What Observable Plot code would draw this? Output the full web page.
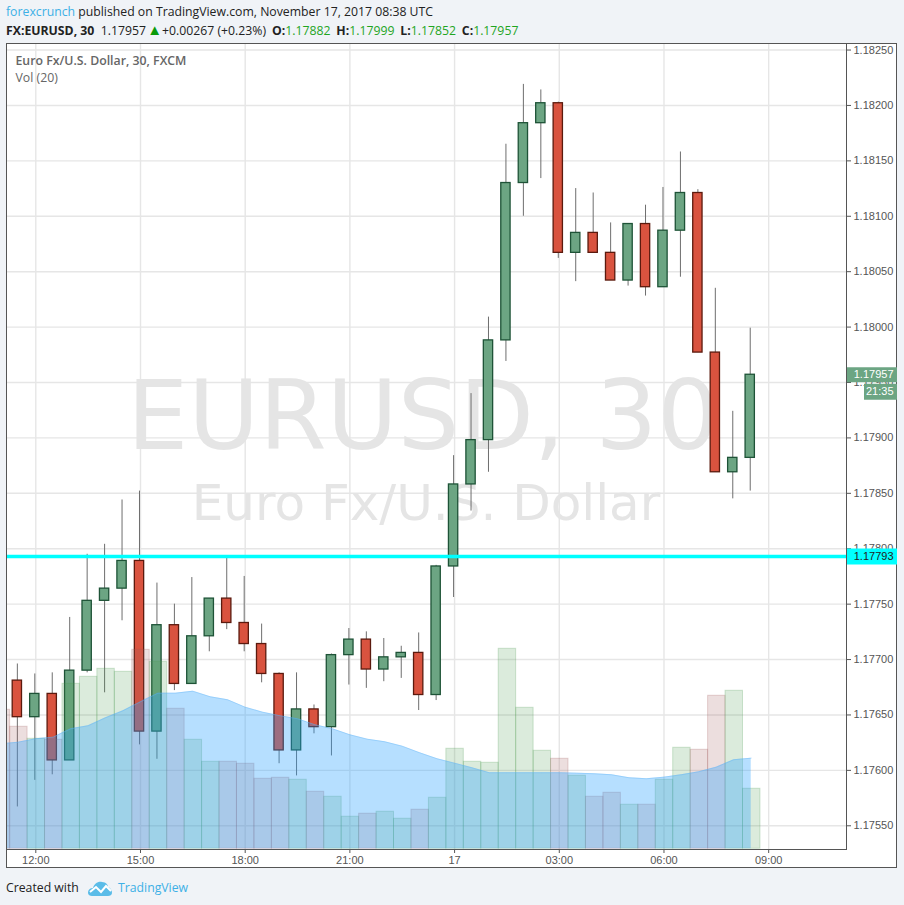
<!DOCTYPE html>
<html><head><meta charset="utf-8">
<script src="https://cdn.jsdelivr.net/npm/d3@7"></script>
<script src="https://cdn.jsdelivr.net/npm/@observablehq/plot@0.6"></script>
<style>
html,body{margin:0;padding:0;background:#f0f3f7;width:904px;height:905px;overflow:hidden}
#head{position:absolute;left:6px;top:2px;font:12.25px/19px "Open Sans",sans-serif;color:#222;white-space:nowrap}
#head .b{color:#3db0e6}
#head b{font-weight:700}
#head .g{color:#1fa51f}
#head .t{color:#0a9a0a;font-size:15px;line-height:15px;margin:0 0 0 -2px}
#head .s{margin-left:2.7px}
#chart{position:absolute;left:6px;top:43px;width:891px;height:825px;background:#fff;box-shadow:inset 0 0 0 1px #555}
#chart svg{display:block;overflow:visible}
#foot{position:absolute;left:6px;top:878px;font:12.25px/20px "Open Sans",sans-serif;color:#222;white-space:nowrap}
#foot .b{color:#3db0e6;margin-left:5px}
#foot svg{vertical-align:-4px;margin-left:5px}
</style></head><body>
<div id="head"><div><span class="b">forexcrunch</span> published on TradingView.com, November 17, 2017 08:38 UTC</div>
<div><b>FX:EURUSD, 30</b>&nbsp; 1.17957 <span class="t">&#9650;</span>+0.00267 (+0.23%) <b class="s">O:</b><span class="g">1.17882</span> <b class="s">H:</b><span class="g">1.17999</span> <b class="s">L:</b><span class="g">1.17852</span> <b class="s">C:</b><span class="g">1.17957</span></div></div>
<div id="chart"></div>
<div id="foot">Created with <svg width="26" height="16" viewBox="0 0 26 16"><path fill="#5bbce8" d="M1 13 C1 9 4 8 6 8 C7 4 11 1 15 2 C19 2 21 5 21 7 C24 8 25 11 25 13 C25 15 23 16 21 16 L5 16 C3 16 1 15 1 13Z"/><path fill="none" stroke="#fff" stroke-width="2" d="M3 12 L9 7 L14 12 L19 6 L24 11"/></svg><span class="b">TradingView</span></div>
<script>
// half-hour bars, first one at 11:30 UTC on 16 Nov 2017
const start = Date.UTC(2017, 10, 16, 11, 30);
const halfHour = 30 * 60000;
const opens  = [1.17681,1.17648,1.17669,1.17609,1.17690,1.17753,1.17764,1.17789,1.17635,1.17731,1.17678,1.17721,1.17755,1.17733,1.17714,1.17687,1.17618,1.17655,1.17639,1.17704,1.17718,1.17691,1.17702,1.17706,1.17668,1.17784,1.17858,1.17898,1.17988,1.18130,1.18184,1.18202,1.18067,1.18085,1.18067,1.18042,1.18093,1.18036,1.18087,1.18121,1.17977,1.17869,1.17882];
const closes = [1.17648,1.17669,1.17609,1.17690,1.17753,1.17764,1.17789,1.17635,1.17731,1.17678,1.17721,1.17755,1.17733,1.17714,1.17687,1.17618,1.17655,1.17639,1.17704,1.17718,1.17691,1.17702,1.17706,1.17668,1.17784,1.17858,1.17898,1.17988,1.18130,1.18184,1.18202,1.18067,1.18085,1.18067,1.18042,1.18093,1.18036,1.18087,1.18121,1.17977,1.17869,1.17882,1.17957];
const highs  = [1.17696,1.17687,1.17688,1.17738,1.17795,1.17804,1.17844,1.17852,1.17769,1.17750,1.17774,1.17755,1.17792,1.17775,1.17732,1.17688,1.17688,1.17659,1.17705,1.17728,1.17725,1.17719,1.17712,1.17724,1.17785,1.17884,1.17940,1.18009,1.18165,1.18219,1.18214,1.18203,1.18125,1.18121,1.18094,1.18093,1.18110,1.18126,1.18158,1.18124,1.18035,1.17924,1.17999];
const lows   = [1.17567,1.17591,1.17596,1.17609,1.17688,1.17670,1.17735,1.17623,1.17610,1.17672,1.17678,1.17707,1.17727,1.17707,1.17679,1.17606,1.17595,1.17633,1.17613,1.17677,1.17674,1.17680,1.17683,1.17654,1.17663,1.17756,1.17834,1.17869,1.17969,1.18100,1.18134,1.18062,1.18041,1.18067,1.18042,1.18037,1.18028,1.18036,1.18045,1.17977,1.17869,1.17845,1.17852];
// volume begins one bar earlier (11:00), whose candle lies off the left edge
const volumes = [1390,1220,1100,1090,1650,1720,1800,1770,1990,1870,1400,1090,870,870,850,700,710,690,570,520,320,350,370,300,390,510,1000,870,860,2000,1410,980,900,730,520,560,440,440,690,1010,990,1530,1580,600];
const volumeUp = [0,0,1,0,1,1,1,1,0,1,0,1,1,0,0,0,0,1,0,1,1,0,1,1,0,1,1,1,1,1,1,1,0,1,0,0,1,0,1,1,0,0,1,1];
const volumeMA = [1050,1066,1100,1116,1200,1230,1310,1380,1470,1556,1556,1576,1520,1490,1416,1366,1330,1300,1240,1200,1140,1096,1070,1026,960,900,856,810,760,760,760,760,760,756,750,740,710,700,716,740,770,816,890,906];
const yTicks = d3.range(0, 15).map(i => 1.1755 + i * 0.0005);
const xTicks = d3.range(0, 8).map(i => new Date(Date.UTC(2017, 10, 16, 12 + 3 * i)));
const lastPrice = 1.17957, markedLevel = 1.17793;

const priceBase = 1.175293, volumeToPrice = 9.02e-7;
const vy = v => priceBase + v * volumeToPrice;
const candles = opens.map((o, i) => ({
  t: start + i * halfHour, o, c: closes[i], h: highs[i], l: lows[i], up: closes[i] >= o
}));
const vols = volumes.map((v, i) => ({
  t: start + (i - 1) * halfHour, v, ma: volumeMA[i], up: !!volumeUp[i]
}));
const bodyHalf = 8 * 60000, volHalf = 15 * 60000;
const axisFont = {fontFamily: "Liberation Sans, Arial, sans-serif", fontSize: 11};
const wmFont = "DejaVu Sans, sans-serif";

const plot = Plot.plot({
  width: 891, height: 825,
  marginLeft: 1, marginRight: 51, marginTop: 1, marginBottom: 19,
  style: {background: "transparent", color: "#555", fontFamily: "Liberation Sans, Arial, sans-serif", fontSize: "11px"},
  x: {type: "utc", domain: [new Date(start - 18.65 * 60000), new Date(start + 1423.8 * 60000)]},
  y: {domain: [1.175286, 1.18255]},
  marks: [
    Plot.ruleY(yTicks, {stroke: "#e6e6e6", strokeWidth: 1.4}),
    Plot.ruleX(xTicks, {stroke: "#e6e6e6", strokeWidth: 1.4}),
    Plot.text(["EURUSD, 30"], {frameAnchor: "middle", dy: -29, dx: -4, fill: "#e5e5e5", fontSize: 97, fontFamily: wmFont}),
    Plot.text(["Euro Fx/U.S. Dollar"], {frameAnchor: "middle", dy: 57, dx: -1, fill: "#e5e5e5", fontSize: 50, fontFamily: wmFont}),
    Plot.ruleX(candles, {x: d => new Date(d.t), y1: "l", y2: "h", stroke: "#6e6e6e", strokeWidth: 1, dx: -1, clip: true}),
    Plot.rect(candles, {x1: d => new Date(d.t - bodyHalf), x2: d => new Date(d.t + bodyHalf), y1: "o", y2: "c", fill: d => d.up ? "#6ca583" : "#d9533f", stroke: d => d.up ? "#1e5337" : "#5b1a0e", strokeWidth: 1.3, dx: -1, clip: true}),
    Plot.ruleY([markedLevel], {stroke: "#00ffff", strokeWidth: 3.5}),
    Plot.rect(vols, {x1: d => new Date(d.t - volHalf), x2: d => new Date(d.t + volHalf), y1: () => priceBase, y2: d => vy(d.v), fill: d => d.up ? "#4c9a50" : "#a05858", fillOpacity: 0.2, stroke: d => d.up ? "#4c9a50" : "#a05858", strokeOpacity: 0.25, strokeWidth: 1, dx: 0.5, clip: true}),
    Plot.areaY(vols, {x: d => new Date(d.t), y1: () => priceBase, y2: d => vy(d.ma), fill: "#2aa2ff", fillOpacity: 0.34, clip: true}),
    Plot.lineY(vols, {x: d => new Date(d.t), y: d => vy(d.ma), stroke: "#64b5f6", strokeOpacity: 0.4, strokeWidth: 1, clip: true}),
    Plot.frame({anchor: "right", stroke: "#555"}),
    Plot.frame({anchor: "bottom", stroke: "#555"}),
    Plot.axisY(yTicks, {anchor: "right", tickSize: 4, tickPadding: 3, tickFormat: d3.format(".5f"), label: null, fill: "#555", ...axisFont}),
    Plot.axisX(xTicks, {anchor: "bottom", tickSize: 4, tickPadding: 3, label: null, fill: "#555", tickFormat: d => d.getUTCHours() === 0 ? String(d.getUTCDate()) : d3.utcFormat("%H:%M")(d), ...axisFont}),
    Plot.ruleY([lastPrice], {stroke: "#6ca583", strokeWidth: 15, insetLeft: 789, dx: 51}),
    Plot.ruleY([lastPrice], {stroke: "#6ca583", strokeWidth: 16, insetLeft: 806, dx: 51, dy: 17}),
    Plot.ruleY([markedLevel], {stroke: "#00ffff", strokeWidth: 16, insetLeft: 789, dx: 51}),
    Plot.text(["1.17957"], {y: () => lastPrice, frameAnchor: "right", dx: 47, fill: "#fff", textAnchor: "end", ...axisFont}),
    Plot.text(["21:35"], {y: () => lastPrice, frameAnchor: "right", dx: 47, dy: 17, fill: "#fff", textAnchor: "end", ...axisFont}),
    Plot.text(["1.17793"], {y: () => markedLevel, frameAnchor: "right", dx: 47, fill: "#222", textAnchor: "end", ...axisFont}),
    Plot.text(["Euro Fx/U.S. Dollar, 30, FXCM"], {frameAnchor: "top-left", dx: 8, dy: 12, fill: "#666", fontSize: 12.3, fontWeight: 600, textAnchor: "start", fontFamily: "Open Sans, sans-serif"}),
    Plot.text(["Vol (20)"], {frameAnchor: "top-left", dx: 8, dy: 29, fill: "#666", fontSize: 12.3, textAnchor: "start", fontFamily: "Open Sans, sans-serif"})
  ]
});
document.getElementById("chart").append(plot);
</script>
</body></html>
